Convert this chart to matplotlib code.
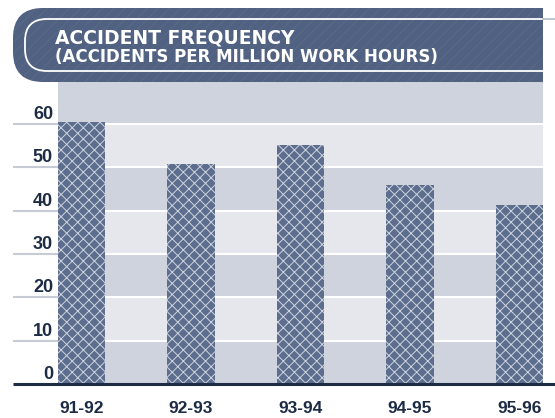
import numpy as np
import matplotlib.pyplot as plt
from matplotlib.patches import FancyBboxPatch, Rectangle
from matplotlib.transforms import blended_transform_factory

# data
seasons = ['91-92', '92-93', '93-94', '94-95', '95-96']
accidents = [60.5, 50.8, 55.2, 45.9, 41.3]
yticks = [0, 10, 20, 30, 40, 50, 60]
title1 = 'ACCIDENT FREQUENCY'
title2 = '(ACCIDENTS PER MILLION WORK HOURS)'

navy = '#1d2b45'
band_dark = '#cfd3dd'
band_light = '#e5e7ed'
bar_col = '#5c6d8d'
fiber = '#cdd4e0'

plt.rcParams['font.family'] = ['Liberation Sans', 'DejaVu Sans']
plt.rcParams['hatch.linewidth'] = 0.7

W, H = 555, 418
fig = plt.figure(figsize=(W / 100, H / 100), dpi=100)
fig.patch.set_facecolor('white')

ax = fig.add_axes([58 / W, 34 / H, 485 / W, (384 - 80.7) / H])
ax.set_xlim(-0.215, 4.215)
ax.set_ylim(0, 70)
ax.axis('off')

# alternating bands + white gridlines
for i in range(7):
    ax.axhspan(i * 10, i * 10 + 10, color=band_dark if i % 2 == 0 else band_light,
               lw=0, zorder=0)
for v in yticks[1:]:
    ax.axhline(v, color='white', lw=1.5, zorder=1)

x = np.arange(len(seasons))
ax.bar(x, accidents, width=0.43, color=bar_col, edgecolor=fiber, linewidth=0,
       hatch='xxx', zorder=2)

bt = blended_transform_factory(ax.transAxes, ax.transData)
x0 = (13 - 58) / 485
x1 = (555 - 58) / 485

# gray stubs to the left of the plot under the labels
for v in yticks[1:]:
    ax.plot([x0, 0], [v, v], transform=bt, color='#c6cbd6', lw=1.5,
            clip_on=False, solid_capstyle='butt', zorder=1)
ax.plot([x0, x1], [0, 0], transform=bt, color=navy, lw=2.2, clip_on=False,
        solid_capstyle='butt', zorder=3)

for v in yticks:
    ax.annotate(str(v), xy=(0, v), xycoords=bt, xytext=(-5, 5),
                textcoords='offset pixels', ha='right', va='baseline',
                fontsize=13, fontweight='bold', color=navy)

for xi, lab in zip(x, seasons):
    ax.annotate(lab, xy=(xi, 0), xycoords='data', xytext=(0, -29),
                textcoords='offset pixels', ha='center', va='baseline',
                fontsize=12.5, fontweight='bold', color=navy, annotation_clip=False)

# title banner on an overlay in pixel coordinates
ov = fig.add_axes([0, 0, 1, 1], zorder=5)
ov.set_xlim(0, W)
ov.set_ylim(H, 0)
ov.axis('off')
ov.patch.set_alpha(0)

clip = Rectangle((0, 0), 543, H, transform=ov.transData)
banner = FancyBboxPatch((13, 8), 600, 74, boxstyle='round,pad=0,rounding_size=30',
                        facecolor='#506181', edgecolor='#5a6a88', hatch='///',
                        lw=0)
ov.add_patch(banner)
banner.set_clip_path(clip)
frame = FancyBboxPatch((25, 19), 600, 52, boxstyle='round,pad=0,rounding_size=22',
                       facecolor='none', edgecolor='white', lw=1.3)
ov.add_patch(frame)
frame.set_clip_path(clip)
ov.plot([543, 555], [19, 19], color='#b9c0cc', lw=1.3)

ov.text(55, 43, title1, color='white', fontsize=13.5, fontweight='bold',
        family='DejaVu Sans', ha='left', va='baseline')
ov.text(55, 62, title2, color='white', fontsize=12, fontweight='bold',
        family='DejaVu Sans', ha='left', va='baseline')

fig.savefig('out.png', dpi=100)
